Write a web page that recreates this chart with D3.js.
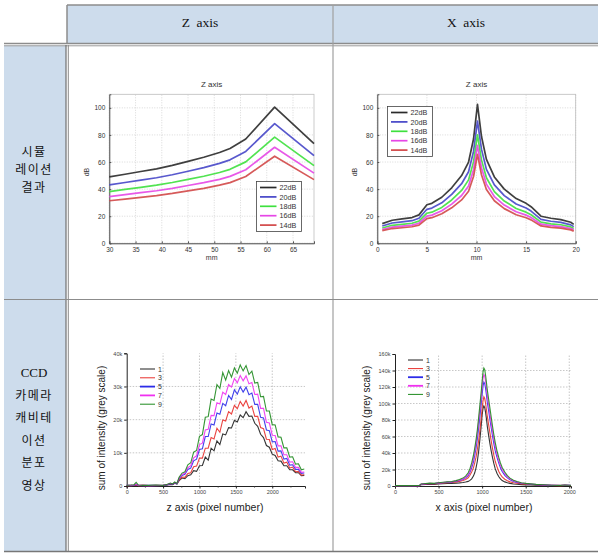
<!DOCTYPE html>
<html><head><meta charset="utf-8">
<script src="https://cdn.jsdelivr.net/npm/d3@7"></script>
<style>body{margin:0;background:#fff}svg{display:block}</style>
</head><body>
<script>
// ---------- DATA ----------
const headerLabels = ["Z axis", "X axis"];
const rowLabels1 = ["시뮬", "레이션", "결과"];
const rowLabels2 = ["CCD", "카메라", "캐비테", "이션", "분포", "영상"];

const simSeries = ["22dB", "20dB", "18dB", "16dB", "14dB"];
const simColors = ["#2a2a2a", "#4646c8", "#3ee03e", "#e646e6", "#d24848"];

// top-left: Z axis simulation (mm vs dB)
const zMm = [30, 33, 36, 39, 42, 45, 48, 51, 53, 56, 61.5, 69];
const z22 = [49, 51, 53, 55, 57.5, 60.5, 63.5, 67, 70, 77, 100.5, 73.5];
const z20 = [43.1, 44.9, 46.6, 48.4, 50.6, 53.2, 55.9, 59, 61.6, 67.8, 88.4, 64.7];
const z18 = [38.2, 39.8, 41.3, 42.9, 44.9, 47.2, 49.5, 52.3, 54.6, 60.1, 78.4, 57.3];
const z16 = [34.5, 36, 37.4, 38.8, 40.5, 42.7, 44.8, 47.2, 49.4, 54.3, 70.9, 51.8];
const z14 = [31.4, 32.6, 33.9, 35.2, 36.8, 38.7, 40.6, 42.9, 44.8, 49.3, 64.3, 47];

// top-right: X axis simulation
const xMm = [0.5, 1.5, 2.5, 3.5, 4.2, 5, 5.5, 6.5, 7.5, 8.5, 9.2, 9.7, 10.1, 10.5, 11, 11.8, 12.8, 14, 15, 15.5, 16.5, 17.5, 18.5, 19.5, 19.8];
const x22 = [14.5, 17, 18, 19, 21, 28.5, 29.5, 34, 41, 50, 60, 77, 102.5, 79, 62, 49, 40, 33, 29.5, 27, 20, 18.5, 17.5, 15.5, 14];
const x20 = [12.8, 15, 15.8, 16.7, 18.5, 25.1, 26, 29.9, 36.1, 44, 52.8, 67.8, 90.2, 69.5, 54.6, 43.1, 35.2, 29, 26, 23.8, 17.6, 16.3, 15.4, 13.6, 12.3];
const x18 = [11.3, 13.3, 14, 14.8, 16.4, 22.2, 23, 26.5, 32, 39, 46.8, 60.1, 80, 61.6, 48.4, 38.2, 31.2, 25.7, 23, 21.1, 15.6, 14.4, 13.7, 12.1, 10.9];
const x16 = [10.2, 12, 12.7, 13.4, 14.8, 20.1, 20.8, 24, 28.9, 35.3, 42.3, 54.3, 72.3, 55.7, 43.7, 34.5, 28.2, 23.3, 20.8, 19, 14.1, 13, 12.3, 10.9, 9.9];
const x14 = [9.3, 10.9, 11.5, 12.2, 13.4, 18.2, 18.9, 21.8, 26.2, 32, 38.4, 49.3, 65.6, 50.6, 39.7, 31.4, 25.6, 21.1, 18.9, 17.3, 12.8, 11.8, 11.2, 9.9, 9];

const simTicksZ = [30, 35, 40, 45, 50, 55, 60, 65];
const simTicksX = [0, 5, 10, 15, 20];
const simTicksY = [0, 20, 40, 60, 80, 100];

// bottom: CCD camera
const ccdSeries = ["1", "3", "5", "7", "9"];
const ccdColors = ["#1e1e1e", "#e8302c", "#2c2ce8", "#f030f0", "#1e8a1e"];

// bottom-left: z axis pixel number vs intensity (k)
const zPix = [0, 60, 100, 130, 160, 220, 300, 400, 500, 560, 600, 630, 660, 690,
  720, 760, 800, 840, 880, 920, 960, 1000, 1040, 1080, 1120, 1160, 1200, 1240, 1280, 1320, 1360, 1400, 1440, 1480,
  1520, 1560, 1600, 1640, 1680, 1720, 1760, 1800, 1840, 1880, 1920, 1960, 2000, 2040, 2080, 2120, 2160, 2200,
  2240, 2280, 2320, 2360, 2400, 2440];
const zI1 = [0.1, 0.2, 0.1, 0.3, 0.1, 0.2, 0.1, 0.2, 0.1, 0.3, 0.5, 0.4, 0.8, 0.6,
  1.6, 2.4, 2.2, 3.1, 3.4, 4.6, 4.4, 6.1, 6.2, 8.7, 7.8, 11.4, 10.6, 13.6, 12.5, 15.7, 15.4, 17.6, 17.5, 19.8,
  19.3, 21.4, 20.6, 22.4, 21.0, 21.1, 18.9, 18.0, 15.6, 14.6, 12.2, 11.7, 9.6, 9.2, 7.6, 7.5, 6.1, 6.1,
  4.9, 4.9, 4.0, 4.0, 3.1, 3.2];
const zI3 = [0.1, 0.1, 0.2, 0.4, 0.1, 0.2, 0.1, 0.1, 0.2, 0.4, 0.6, 0.5, 0.9, 0.7,
  1.8, 2.7, 2.6, 3.8, 4.0, 5.8, 6.0, 8.4, 8.4, 11.4, 11.4, 14.6, 14.2, 17.4, 16.2, 19.9, 19.6, 22.4, 21.7, 24.3,
  23.3, 25.5, 24.1, 25.8, 23.5, 24.1, 21.0, 21.0, 17.6, 17.3, 14.1, 14.0, 11.0, 11.3, 8.7, 9.0, 6.9, 7.2,
  5.4, 5.7, 4.3, 4.4, 3.3, 3.4];
const zI5 = [0.2, 0.1, 0.2, 0.5, 0.2, 0.1, 0.2, 0.1, 0.2, 0.4, 0.7, 0.5, 1.0, 0.7,
  2.2, 3.2, 3.5, 5.0, 5.4, 7.6, 8.1, 11.0, 11.2, 14.9, 14.9, 18.7, 18.4, 22.0, 21.6, 24.9, 24.2, 27.3, 26.1, 29.0,
  27.7, 29.9, 28.3, 29.8, 27.5, 28.0, 24.6, 24.6, 20.7, 20.5, 16.9, 16.7, 13.3, 13.4, 10.5, 10.6, 8.1, 8.3,
  6.3, 6.4, 5.0, 5.0, 3.8, 3.9];
const zI7 = [0.2, 0.2, 0.3, 0.6, 0.2, 0.2, 0.1, 0.2, 0.2, 0.5, 0.8, 0.6, 1.1, 0.8,
  2.4, 3.5, 3.9, 5.5, 6.1, 8.5, 9.1, 12.5, 12.9, 16.9, 17.1, 21.3, 21.2, 25.1, 24.7, 28.3, 27.6, 30.6, 29.8, 32.4,
  31.1, 33.3, 31.7, 33.2, 30.8, 31.2, 27.6, 27.7, 23.4, 23.4, 19.2, 19.0, 15.3, 15.2, 12.1, 12.1, 9.4, 9.4,
  7.2, 7.3, 5.6, 5.6, 4.1, 4.2];
const zI9 = [0.2, 0.3, 0.4, 1.1, 0.3, 0.2, 0.2, 0.3, 0.2, 0.5, 0.9, 0.6, 1.2, 0.8,
  2.6, 3.9, 4.3, 6.4, 7.0, 10.2, 10.7, 15.0, 15.5, 20.7, 20.9, 26.2, 25.8, 30.6, 29.4, 34.2, 31.9, 34.8, 32.8, 35.6,
  34.0, 36.5, 34.7, 36.3, 33.6, 34.6, 31.0, 31.2, 26.9, 27.0, 22.6, 22.6, 18.5, 18.4, 14.8, 14.7, 11.5, 11.5,
  8.7, 8.8, 6.6, 6.7, 4.9, 5.1];

// bottom-right: x axis pixel number vs intensity (k)
const xPix = [0, 150, 280, 300, 350, 400, 450, 500, 550, 600, 650, 700, 740, 780, 810, 840, 860, 880, 900, 915,
  930, 945, 960, 975, 990, 1000, 1010, 1020, 1030, 1040, 1050, 1060, 1075, 1090, 1105, 1120, 1135, 1150, 1170,
  1190, 1210, 1230, 1260, 1290, 1320, 1360, 1400, 1450, 1500, 1560, 1620, 1700, 1800, 1900, 1950, 2000, 2020];
const xI1 = [0.3, 0.2, 0.3, 1.5, 1.8, 2.1, 2.0, 2.5, 2.8, 3.0, 3.2, 3.5, 3.8, 4.2, 4.8, 5.6, 6.8, 8.6, 12, 16,
  22, 30, 42, 57, 74, 86, 94, 97, 95, 89, 81, 72, 61, 51, 42, 34, 27, 21, 15.5,
  11.5, 8.6, 6.6, 5.0, 3.9, 3.2, 2.5, 2.1, 1.7, 1.4, 1.2, 1.0, 0.8, 0.6, 0.5, 0.7, 0.5, 0.4];
const xI3 = [0.4, 0.3, 0.4, 2.0, 2.4, 2.8, 2.6, 3.2, 3.6, 4.0, 4.3, 5.0, 5.6, 6.6, 8.0, 10, 13, 17, 22, 28,
  35, 44, 55, 68, 83, 94, 103, 108, 106, 100, 92, 84, 74, 64, 54, 45, 37, 30, 23.5,
  18, 14, 11, 8.2, 6.3, 5.0, 4.0, 3.3, 2.6, 2.2, 1.8, 1.5, 1.1, 0.7, 0.5, 0.8, 0.6, 0.5];
const xI5 = [0.4, 0.3, 0.5, 2.2, 2.7, 3.1, 2.9, 3.6, 4.0, 4.5, 4.9, 5.7, 6.6, 8.0, 9.8, 12.5, 16.5, 22, 29, 37,
  46, 57, 70, 85, 100, 111, 121, 126, 124, 118, 110, 101, 91, 80, 70, 60, 51, 43, 35,
  28, 22, 17.5, 13, 9.8, 7.5, 5.5, 4.4, 3.3, 2.7, 2.2, 1.7, 1.2, 0.8, 0.6, 0.9, 0.7, 0.6];
const xI7 = [0.5, 0.4, 0.5, 2.3, 2.8, 3.3, 3.0, 3.8, 4.2, 4.7, 5.1, 6.0, 7.0, 8.6, 10.6, 14, 18.5, 25, 33, 42,
  52, 64, 78, 93, 108, 120, 130, 135, 133, 127, 118, 109, 98, 87, 76, 66, 57, 48, 39,
  31, 25, 20, 15, 11, 8.5, 6.3, 5.0, 3.7, 3.0, 2.4, 1.9, 1.3, 0.9, 0.7, 1.0, 0.8, 0.7];
const xI9 = [0.5, 0.4, 0.6, 2.5, 3.0, 3.5, 3.2, 4.0, 4.5, 5.0, 5.5, 6.5, 7.8, 9.6, 12, 16, 21, 28, 37, 46,
  56, 68, 83, 99, 115, 127, 138, 143, 141, 134, 125, 116, 105, 94, 83, 72, 62, 53, 43,
  35, 28, 22.5, 17, 12.5, 9.5, 7.0, 5.5, 4.0, 3.2, 2.6, 2.0, 1.5, 1.0, 0.8, 1.2, 0.9, 0.8];

const ccdTicksZ = [0, 500, 1000, 1500, 2000];
const ccdTicksX = [0, 500, 1000, 1500, 2000];
const ccdTicksYz = [0, 10, 20, 30, 40];
const ccdTicksYx = [0, 20, 40, 60, 80, 100, 120, 140, 160];

// ---------- DRAW ----------
const W = 607, H = 558;
const svg = d3.select("body").append("svg").attr("width", W).attr("height", H);

// table
const fill = "#cddcec", lineC = "#8a8a8a";
svg.append("rect").attr("x", 67).attr("y", 5).attr("width", 531).attr("height", 38.5).attr("fill", fill);
svg.append("rect").attr("x", 4).attr("y", 45.5).attr("width", 62).attr("height", 505.5).attr("fill", fill);
const L = (x1, y1, x2, y2, w, c) => svg.append("line").attr("x1", x1).attr("y1", y1).attr("x2", x2).attr("y2", y2)
  .attr("stroke", c || lineC).attr("stroke-width", w || 1);
L(67, 5, 598, 5, 1.5, "#8c8c8c");
L(67, 5, 67, 44, 1.5, "#8c8c8c");
L(4, 43.5, 598, 43.5, 1.5, "#8c8c8c");
L(4, 45.8, 598, 45.8, 1, "#9a9a9a");
L(66, 45, 66, 551, 1.2, "#707070");
L(68.3, 45, 68.3, 551, 1, "#8a8a8a");
L(333, 5, 333, 551, 1.2, "#a0a0a0");
L(4, 299.5, 598, 299.5, 1, "#8c8c8c");
L(4, 551.5, 598, 551.5, 1.5, "#777");

svg.selectAll(".hdr").data(headerLabels).enter().append("text")
  .attr("x", (d, i) => i === 0 ? 200 : 466).attr("y", 27).attr("text-anchor", "middle")
  .attr("font-family", "Liberation Serif, DejaVu Serif, serif").attr("font-size", 13.5).attr("fill", "#111")
  .attr("xml:space", "preserve").text(d => d.replace(" ", "  "));

const korFont = "'Noto Sans CJK KR', sans-serif";
svg.selectAll(".r1").data(rowLabels1).enter().append("text")
  .attr("x", 34).attr("y", (d, i) => 156 + i * 18).attr("text-anchor", "middle")
  .attr("font-family", korFont).attr("font-size", 12).attr("letter-spacing", 1.5).attr("fill", "#111").text(d => d);
svg.selectAll(".r2").data(rowLabels2).enter().append("text")
  .attr("x", 34).attr("y", (d, i) => 377 + i * 22.6).attr("text-anchor", "middle")
  .attr("font-family", (d, i) => i === 0 ? "Liberation Serif, serif" : korFont)
  .attr("font-size", (d, i) => i === 0 ? 13 : 12).attr("letter-spacing", (d, i) => i === 0 ? 0 : 1.5)
  .attr("fill", "#111").text(d => d);

// ---- simulation chart ----
function simChart(opt) {
  const g = svg.append("g");
  const x = d3.scaleLinear().domain(opt.xd).range(opt.xr);
  const y = d3.scaleLinear().domain([0, 110]).range([243.3, 94.3]);
  const font = "Liberation Sans, Arial, sans-serif";
  g.selectAll(".gx").data(opt.xt).enter().append("line")
    .attr("x1", d => x(d)).attr("x2", d => x(d)).attr("y1", y(0)).attr("y2", y(110))
    .attr("stroke", "#c8c8c8").attr("stroke-width", 0.7).attr("stroke-dasharray", "1,1.5");
  g.selectAll(".gy").data(simTicksY).enter().append("line")
    .attr("x1", opt.xr[0]).attr("x2", opt.xr[1]).attr("y1", d => y(d)).attr("y2", d => y(d))
    .attr("stroke", "#c8c8c8").attr("stroke-width", 0.7).attr("stroke-dasharray", "1,1.5");
  g.append("rect").attr("x", opt.xr[0]).attr("y", y(110)).attr("width", opt.xr[1] - opt.xr[0])
    .attr("height", y(0) - y(110)).attr("fill", "none").attr("stroke", "#bdbdbd").attr("stroke-width", 0.8);
  const ax = g.append("g").attr("transform", `translate(0,${y(0)})`)
    .call(d3.axisBottom(x).tickValues(opt.xt).tickSize(-2).tickPadding(4).tickFormat(d3.format("d")));
  const ay = g.append("g").attr("transform", `translate(${opt.xr[0]},0)`)
    .call(d3.axisLeft(y).tickValues(simTicksY).tickSize(-2).tickPadding(4));
  [ax, ay].forEach(a => {
    a.select(".domain").attr("stroke", "#555").attr("stroke-width", 1);
    a.selectAll(".tick line").attr("stroke", "#555");
    a.selectAll("text").attr("font-family", font).attr("font-size", 6.5).attr("fill", "#333");
  });
  const line = d3.line().x(d => x(d[0])).y(d => y(d[1]));
  opt.series.forEach((s, i) => {
    g.append("path").datum(opt.xs.map((v, j) => [v, s[j]])).attr("d", line)
      .attr("fill", "none").attr("stroke", simColors[i]).attr("stroke-width", 1.7)
      .attr("stroke-linejoin", "round").attr("opacity", 0.9);
  });
  g.append("text").attr("x", (opt.xr[0] + opt.xr[1]) / 2).attr("y", 87).attr("text-anchor", "middle")
    .attr("font-family", font).attr("font-size", 8).attr("fill", "#333").text("Z axis");
  g.append("text").attr("x", (opt.xr[0] + opt.xr[1]) / 2).attr("y", 260).attr("text-anchor", "middle")
    .attr("font-family", font).attr("font-size", 7).attr("fill", "#333").text("mm");
  g.append("text").attr("transform", `translate(${opt.ylx},172) rotate(-90)`).attr("text-anchor", "middle")
    .attr("font-family", font).attr("font-size", 7).attr("fill", "#333").text("dB");
  const lg = g.append("g");
  lg.append("rect").attr("x", opt.lx).attr("y", opt.ly).attr("width", 45).attr("height", 50)
    .attr("fill", "#fff").attr("stroke", "#444").attr("stroke-width", 0.8);
  simSeries.forEach((n, i) => {
    const yy = opt.ly + 6 + i * 9.4;
    lg.append("line").attr("x1", opt.lx + 3.5).attr("x2", opt.lx + 20).attr("y1", yy).attr("y2", yy)
      .attr("stroke", simColors[i]).attr("stroke-width", 1.7);
    lg.append("text").attr("x", opt.lx + 23).attr("y", yy + 2.6).attr("font-family", font)
      .attr("font-size", 7.2).attr("fill", "#333").text(n);
  });
}
simChart({ xd: [30, 69], xr: [109.3, 314], xt: simTicksZ, xs: zMm, series: [z22, z20, z18, z16, z14],
  ylx: 89, lx: 256.5, ly: 181.5 });
simChart({ xd: [0, 20], xr: [377.3, 575.7], xt: simTicksX, xs: xMm, series: [x22, x20, x18, x16, x14],
  ylx: 357, lx: 387.5, ly: 106.5 });

// ---- CCD chart ----
function ccdChart(opt) {
  const g = svg.append("g");
  const x = d3.scaleLinear().domain(opt.xd).range(opt.xr);
  const y = d3.scaleLinear().domain(opt.yd).range([486, opt.ytop]);
  const font = "Liberation Sans, Arial, sans-serif";
  g.selectAll(".gx").data(opt.xt.slice(1)).enter().append("line")
    .attr("x1", d => x(d)).attr("x2", d => x(d)).attr("y1", y(0)).attr("y2", opt.ytop)
    .attr("stroke", "#b0b0b0").attr("stroke-width", 0.7).attr("stroke-dasharray", "1.5,1.5");
  g.selectAll(".gy").data(opt.yt.slice(1, -1)).enter().append("line")
    .attr("x1", opt.xr[0]).attr("x2", opt.xr[1]).attr("y1", d => y(d)).attr("y2", d => y(d))
    .attr("stroke", "#b0b0b0").attr("stroke-width", 0.7).attr("stroke-dasharray", "1.5,1.5");
  const ax = g.append("g").attr("transform", `translate(0,${y(0)})`)
    .call(d3.axisBottom(x).tickValues(opt.xt).tickSize(2.5).tickPadding(2).tickFormat(d3.format("d")));
  g.append("g").attr("transform", `translate(0,${y(0)})`)
    .call(d3.axisBottom(x).tickValues(opt.xt.map(v => v + 250).filter(v => v < opt.xd[1])).tickSize(1.5).tickFormat(""))
    .call(a => { a.select(".domain").remove(); a.selectAll("line").attr("stroke", "#333"); });
  const ay = g.append("g").attr("transform", `translate(${opt.xr[0]},0)`)
    .call(d3.axisLeft(y).tickValues(opt.yt).tickSize(2.5).tickPadding(2).tickFormat(d => d === 0 ? "0" : d + "k"));
  [ax, ay].forEach(a => {
    a.select(".domain").attr("stroke", "#222").attr("stroke-width", 1);
    a.selectAll(".tick line").attr("stroke", "#222");
    a.selectAll("text").attr("font-family", font).attr("font-size", 5.5).attr("fill", "#444");
  });
  const line = d3.line().x(d => x(d[0])).y(d => y(d[1]));
  opt.series.forEach((s, i) => {
    g.append("path").datum(opt.xs.map((v, j) => [v, s[j]])).attr("d", line)
      .attr("fill", "none").attr("stroke", ccdColors[i]).attr("stroke-width", 1.1)
      .attr("opacity", 0.9);
  });
  g.append("text").attr("x", opt.xlx).attr("y", 511).attr("text-anchor", "middle")
    .attr("font-family", font).attr("font-size", 10.5).attr("fill", "#222").text(opt.xlabel);
  g.append("text").attr("transform", `translate(${opt.ylx},428) rotate(-90)`).attr("text-anchor", "middle")
    .attr("font-family", font).attr("font-size", 10).attr("fill", "#222").text("sum of intensity (grey scale)");
  ccdSeries.forEach((n, i) => {
    const yy = opt.ly + i * opt.lstep;
    g.append("line").attr("x1", opt.lx).attr("x2", opt.lx + 15).attr("y1", yy).attr("y2", yy)
      .attr("stroke", ccdColors[i]).attr("stroke-width", (i === 2 || i === 3) ? 1.8 : 1);
    g.append("text").attr("x", opt.lx + 18).attr("y", yy + 2.5).attr("font-family", font)
      .attr("font-size", 7).attr("fill", "#333").text(n);
  });
}
ccdChart({ xd: [0, 2450], xr: [126.7, 305], yd: [0, 40], ytop: 353.3, xt: ccdTicksZ, yt: ccdTicksYz,
  xs: zPix, series: [zI1, zI3, zI5, zI7, zI9], xlabel: "z axis (pixel number)", xlx: 215, ylx: 105,
  lx: 140, ly: 369, lstep: 8.8 });
ccdChart({ xd: [0, 2020], xr: [395, 571], yd: [0, 160], ytop: 354, xt: ccdTicksX, yt: ccdTicksYx,
  xs: xPix, series: [xI1, xI3, xI5, xI7, xI9], xlabel: "x axis (pixel number)", xlx: 484, ylx: 370,
  lx: 408, ly: 360, lstep: 8.6 });
</script>
</body></html>
